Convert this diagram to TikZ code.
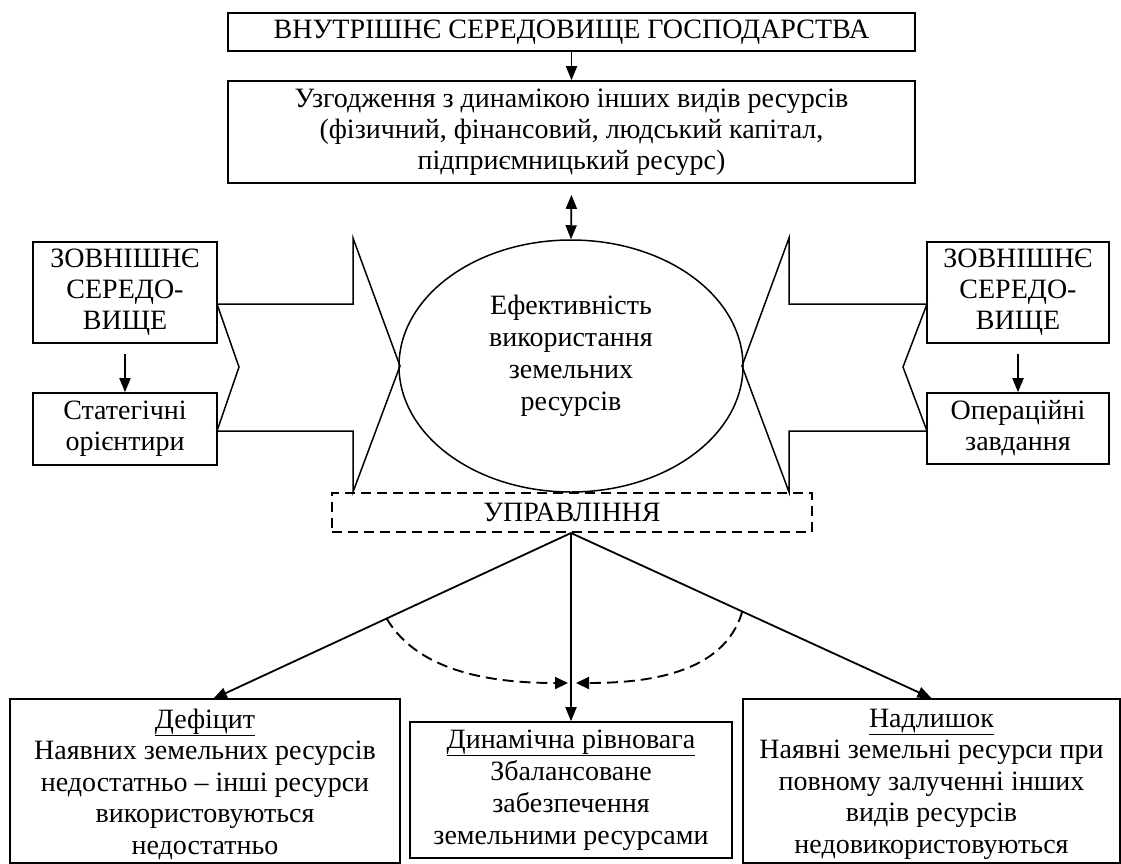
\documentclass[tikz,border=0pt]{standalone}
\usepackage{fontspec}
\setmainfont{Liberation Serif}
\usetikzlibrary{shapes.geometric,arrows.meta,calc}
\begin{document}
\begin{tikzpicture}[x=1pt,y=-1pt,
  every node/.style={font=\fontsize{28}{31}\selectfont},
  box/.style={draw, line width=1.6pt, inner sep=0pt, align=center},
  lowbox/.style={box, font=\fontsize{28}{32}\selectfont},
  ln/.style={line width=1.8pt},
  arr/.style={ln, -{Triangle[length=14pt,width=11pt]}},
  dsh/.style={line width=1.6pt, dash pattern=on 10pt off 6pt},
  dcurve/.style={line width=1.9pt, dash pattern=on 11pt off 6pt},
  outl/.style={line width=1.5pt, line join=miter}]
\useasboundingbox (0,0) rectangle (1121,863);

% top boxes
\node[box, minimum width=687pt, minimum height=38pt] (top) at (571.5,32) {ВНУТРІШНЄ СЕРЕДОВИЩЕ ГОСПОДАРСТВА};
\node[box, minimum width=687pt, minimum height=102pt] (uzg) at (571.5,132)
  {Узгодження з динамікою інших видів ресурсів\\(фізичний, фінансовий, людський капітал,\\підприємницький ресурс)};

% side boxes
\node[box, minimum width=184pt, minimum height=101pt] (zl) at (125,292.5) {ЗОВНІШНЄ\\СЕРЕДО-\\ВИЩЕ};
\node[box, minimum width=184pt, minimum height=72pt] (sl) at (125,429) {Статегічні\\орієнтири};
\node[box, minimum width=182pt, minimum height=101pt] (zr) at (1018,292.5) {ЗОВНІШНЄ\\СЕРЕДО-\\ВИЩЕ};
\node[box, minimum width=182pt, minimum height=71pt] (op) at (1018,428.5) {Операційні\\завдання};

% big arrows
\draw[outl] (217,304) -- (353,304) -- (353,238) -- (400,366) -- (353,492) -- (353,431) -- (217,431) -- (239,367) -- cycle;
\draw[outl] (927,304) -- (789,304) -- (789,238) -- (742,366) -- (789,492) -- (789,431) -- (927,431) -- (903,367) -- cycle;

% ellipse
\node[ellipse, draw, line width=1.5pt, minimum width=344pt, minimum height=252pt, inner sep=0pt] (ell) at (571,366) {};
\node[align=center, inner sep=0pt, font=\fontsize{28}{32}\selectfont] (elltxt) at ([yshift=10pt]ell.center) {Ефективність\\використання\\земельних\\ресурсів};

% management
\node[box, dsh, minimum width=480pt, minimum height=39pt] (upr) at (572,512.5) {УПРАВЛІННЯ};

% bottom boxes
\node[lowbox, minimum width=390pt, minimum height=164pt] (def) at (205,781) {};
\node[align=center, inner sep=0pt, font=\fontsize{28}{31.5}\selectfont] (deftxt) at ([yshift=-3pt]def.center)
  {\underline{Дефіцит}\\Наявних земельних ресурсів\\недостатньо – інші ресурси\\використовуються\\недостатньо};
\node[lowbox, minimum width=322pt, minimum height=136pt] (dyn) at (571,790)
  {\underline{Динамічна рівновага}\\Збалансоване\\забезпечення\\земельними ресурсами};
\node[lowbox, minimum width=377pt, minimum height=164pt] (nad) at (931.5,781) {};
\node[align=center, inner sep=0pt, font=\fontsize{28}{31.5}\selectfont] (nadtxt) at ([yshift=-3pt]nad.center)
  {\underline{Надлишок}\\Наявні земельні ресурси при\\повному залученні інших\\видів ресурсів\\недовикористовуються};

% connectors
\draw[arr] (top.south) -- (uzg.north);
\coordinate (dtop) at ([yshift=-11pt]uzg.south);
\draw[ln, {Triangle[length=14pt,width=11pt]}-{Triangle[length=14pt,width=11pt]}] (dtop) -- (ell.north);
\draw[arr] ([yshift=-10pt]zl.south) -- (sl.north);
\draw[arr] ([yshift=-10pt]zr.south) -- (op.north);

\coordinate (apex) at (571,533);
\coordinate (defin) at (213,699);
\draw[arr] (apex) -- (defin);
\draw[arr] (apex) -- (dyn.north);
\draw[arr] (apex) -- (nad.north);
\path (apex) -- (defin) coordinate[pos=0.515] (la);
\path (apex) -- (nad.north) coordinate[pos=0.475] (ra);
\coordinate (mid) at (571,683);
\draw[dcurve, -{Triangle[length=13pt,width=12pt]}] (la) .. controls (420,675) and (500,683) .. ([xshift=-3pt]mid);
\draw[dcurve, -{Triangle[length=13pt,width=12pt]}] (ra) .. controls (724,675) and (644,683) .. ([xshift=5pt]mid);
\end{tikzpicture}
\end{document}
